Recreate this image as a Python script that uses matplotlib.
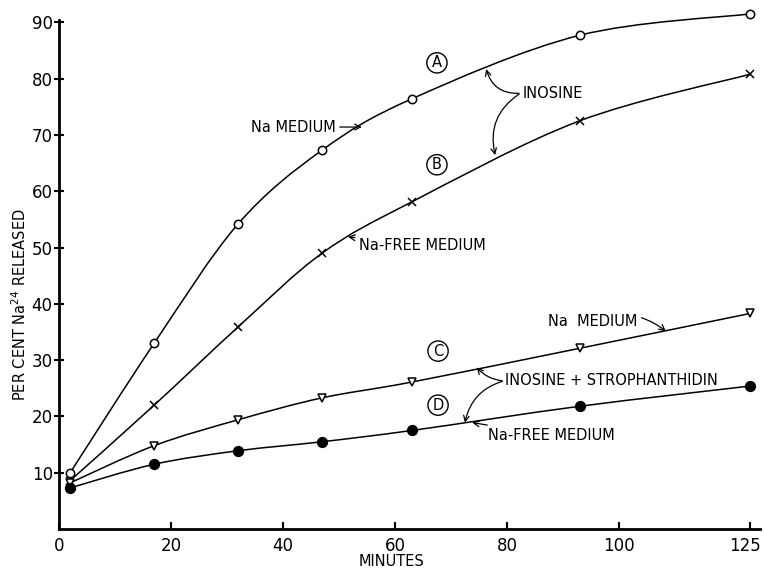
import matplotlib
matplotlib.use("Agg")
import matplotlib.pyplot as plt
import matplotlib.transforms as mtransforms
from matplotlib.path import Path
from matplotlib.patches import PathPatch
import numpy as np

plt.rcParams['font.family'] = ['DejaVu Sans']

# ---- data ----
minutes = [2, 17, 32, 47, 63, 93, 123.5]
curve_a = [10.0, 33.0, 54.2, 67.3, 76.4, 87.7, 91.5]   # Na medium + inosine
curve_b = [8.6, 22.0, 35.9, 49.0, 58.1, 72.5, 80.8]    # Na-free medium + inosine
curve_c = [8.2, 14.8, 19.4, 23.3, 26.1, 32.1, 38.3]    # Na medium + inosine + strophanthidin
curve_d = [7.3, 11.5, 13.9, 15.5, 17.5, 21.8, 25.4]    # Na-free medium + inosine + strophanthidin

xtick_pos = [0, 20, 40, 60, 80, 100, 123.5]
xtick_labels = ['0', '20', '40', '60', '80', '100', '125']
ytick_pos = [10, 20, 30, 40, 50, 60, 70, 80, 90]
ytick_labels = ['10', '20', '30', '40', '50', '60', '70', '80', '90']

fig = plt.figure(figsize=(7.64, 5.69), dpi=100)
ax = fig.add_axes([59/764, 40/569, 701/764, 509.5/569])
ax.set_xlim(0, 125.2)
ax.set_ylim(0, 90.5)


def smooth_path(xs, ys):
    pts = np.column_stack([xs, ys]).astype(float)
    n = len(pts)
    verts = [pts[0]]
    codes = [Path.MOVETO]
    for i in range(n - 1):
        p0 = pts[i - 1] if i > 0 else pts[i]
        p1 = pts[i]
        p2 = pts[i + 1]
        p3 = pts[i + 2] if i + 2 < n else pts[i + 1]
        c1 = p1 + (p2 - p0) / 6.0
        c2 = p2 - (p3 - p1) / 6.0
        verts += [c1, c2, p2]
        codes += [Path.CURVE4] * 3
    return Path(verts, codes)


lw = 1.1
for ys, mk, ms, mfc in [(curve_a, 'o', 6.0, 'white'),
                        (curve_b, 'x', 6.0, 'black'),
                        (curve_c, 'v', 6.0, 'white'),
                        (curve_d, 'o', 7.0, 'black')]:
    ax.add_patch(PathPatch(smooth_path(minutes, ys), fill=False,
                           edgecolor='black', lw=lw, zorder=2,
                           clip_on=False))
    ax.plot(minutes, ys, linestyle='none', marker=mk, ms=ms,
            mfc=mfc, mec='black', mew=1.1, zorder=3, clip_on=False)

# ---- spines / ticks ----
for s in ['top', 'right']:
    ax.spines[s].set_visible(False)
for s in ['left', 'bottom']:
    ax.spines[s].set_linewidth(2.0)
ax.set_xticks(xtick_pos)
ax.set_xticklabels(xtick_labels)
ax.set_yticks(ytick_pos)
ax.set_yticklabels(ytick_labels)
ax.tick_params(axis='x', direction='in', length=5, width=1.5, pad=6,
               labelsize=12)
ax.tick_params(axis='y', direction='inout', length=7, width=1.5, pad=1,
               labelsize=12)
last = ax.get_xticklabels()[-1]
last.set_transform(last.get_transform() +
                   mtransforms.ScaledTranslation(-5/100, 0, fig.dpi_scale_trans))

fig.text(392/764, 1 - 562/569, 'MINUTES', ha='center', va='center',
         fontsize=10.5)
fig.text(20/764, 1 - 305/569, 'PER CENT Na$^{24}$ RELEASED', rotation=90,
         ha='center', va='center', fontsize=10.5)

# ---- annotations ----
ann = dict(arrowstyle='->', lw=0.9, color='black', shrinkA=1, shrinkB=0)
fs = 10.5

ax.annotate('Na MEDIUM', xy=(54.1, 71.4), xytext=(49.4, 71.4),
            ha='right', va='center', fontsize=fs,
            arrowprops=ann)
ax.annotate('Na-FREE MEDIUM', xy=(51.6, 51.9), xytext=(53.6, 50.3),
            ha='left', va='center', fontsize=fs,
            arrowprops=ann)
ax.text(82.8, 77.4, 'INOSINE', ha='left', va='center', fontsize=fs)
ax.annotate('', xy=(76.3, 81.7), xytext=(82.4, 77.4),
            arrowprops=dict(ann, connectionstyle='arc3,rad=-0.4'))
ax.annotate('', xy=(77.9, 66.4), xytext=(82.4, 77.4),
            arrowprops=dict(ann, connectionstyle='arc3,rad=0.35'))

ax.annotate('Na  MEDIUM', xy=(108.4, 35.1), xytext=(103.3, 36.9),
            ha='right', va='center', fontsize=fs,
            arrowprops=dict(ann, connectionstyle='arc3,rad=-0.3'))
ax.text(79.7, 26.3, 'INOSINE + STROPHANTHIDIN', ha='left', va='center',
        fontsize=fs)
ax.annotate('', xy=(74.6, 28.7), xytext=(79.4, 26.3),
            arrowprops=dict(ann, connectionstyle='arc3,rad=-0.2'))
ax.annotate('', xy=(72.5, 18.9), xytext=(79.4, 26.3),
            arrowprops=dict(ann, connectionstyle='arc3,rad=0.3'))
ax.annotate('Na-FREE MEDIUM', xy=(73.8, 18.9), xytext=(76.7, 16.6),
            ha='left', va='center', fontsize=fs,
            arrowprops=ann)

for lab, (x, y) in zip(['A', 'B', 'C', 'D'],
                       [(67.5, 82.8), (67.5, 64.7), (67.7, 31.6), (67.7, 22.0)]):
    ax.text(x, y, lab, ha='center', va='center', fontsize=10.5,
            bbox=dict(boxstyle='circle,pad=0.18', fc='white', ec='black',
                      lw=1.0))

fig.savefig('out.png', dpi=100)
